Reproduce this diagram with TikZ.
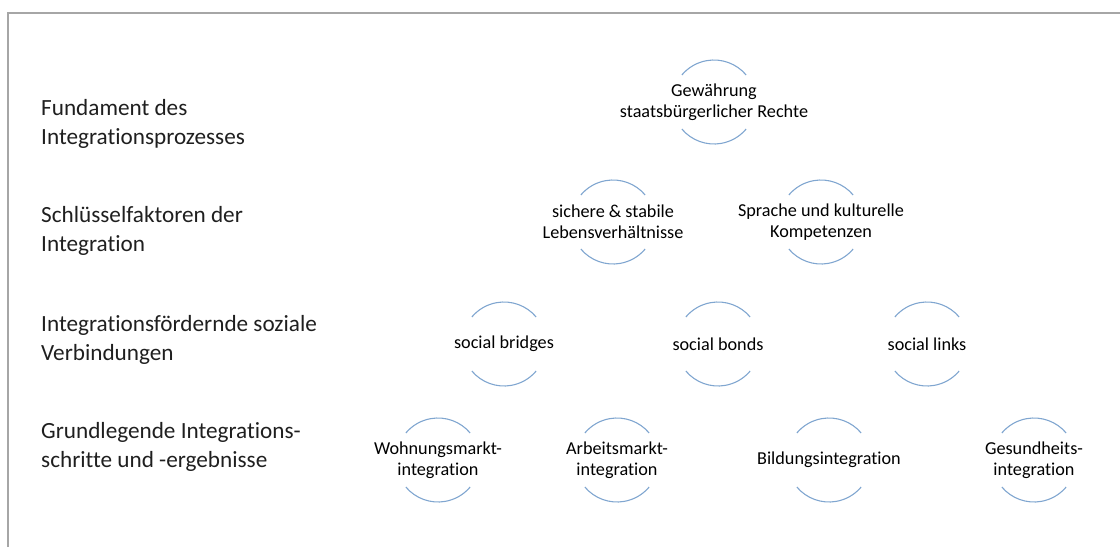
\documentclass[tikz,border=0pt]{standalone}
\usepackage{fontspec}
\setmainfont{Carlito}[Ligatures=NoCommon]

\definecolor{bogenblau}{RGB}{128,166,208}
\definecolor{rahmengrau}{RGB}{166,166,166}

\tikzset{
  ebene/.style={anchor=west, align=left, inner sep=0pt, text=black!88,
    font=\fontsize{23.2}{28.5}\selectfont},
  kreis/.style={align=center, inner sep=0pt, text=black,
    font=\fontsize{18.2}{21}\selectfont},
  bogen/.style={draw=bogenblau, line width=1.1pt},
  rahmen/.style={draw=rahmengrau, line width=2.4pt}
}

\begin{document}
\begin{tikzpicture}[x=1pt, y=-1pt]
        \useasboundingbox (0,0) rectangle (1120,547);
        % Frame
        \draw[rahmen] (8,547) -- (8,13) -- (1120,13);

        % Levels
        \node[ebene] (fundament) at (41,124) {Fundament des\\Integrationsprozesses};
        \node[ebene] (schluessel) at (41,231) {Schlüsselfaktoren der\\Integration};
        \node[ebene] (verbindungen) at (41,340) {Integrationsfördernde soziale\\Verbindungen};
        \node[ebene] (grundlagen) at (41,447) {Grundlegende Integrations-\\schritte und -ergebnisse};

        % Pyramid
        \node[kreis] (gewaehrung) at (714,102) {Gewährung\\staatsbürgerlicher Rechte};
        \node[kreis] (sicherheit) at (613,222) {sichere \& stabile\\Lebensverhältnisse};
        \node[kreis] (sprache) at (821,222) {Sprache und kulturelle\\Kompetenzen};
        \node[kreis] (bridges) at (504,344) {social bridges};
        \node[kreis] (bonds) at (718,344) {social bonds};
        \node[kreis] (links) at (927,344) {social links};
        \node[kreis] (wohnen) at (438,460) {Wohnungsmarkt-\\integration};
        \node[kreis] (arbeit) at (617,460) {Arbeitsmarkt-\\integration};
        \node[kreis] (bildung) at (829,460) {Bildungsintegration};
        \node[kreis] (gesundheit) at (1034,460) {Gesundheits-\\integration};

        % Arcs above and below
        \foreach \n in {gewaehrung,sicherheit,sprache,bridges,bonds,links,wohnen,arbeit,bildung,gesundheit}{
          \draw[bogen] (\n.center) ++(40:42pt) arc[start angle=40, end angle=140, radius=42pt];
          \draw[bogen] (\n.center) ++(220:42pt) arc[start angle=220, end angle=320, radius=42pt];
        }
    \end{tikzpicture}
\end{document}
